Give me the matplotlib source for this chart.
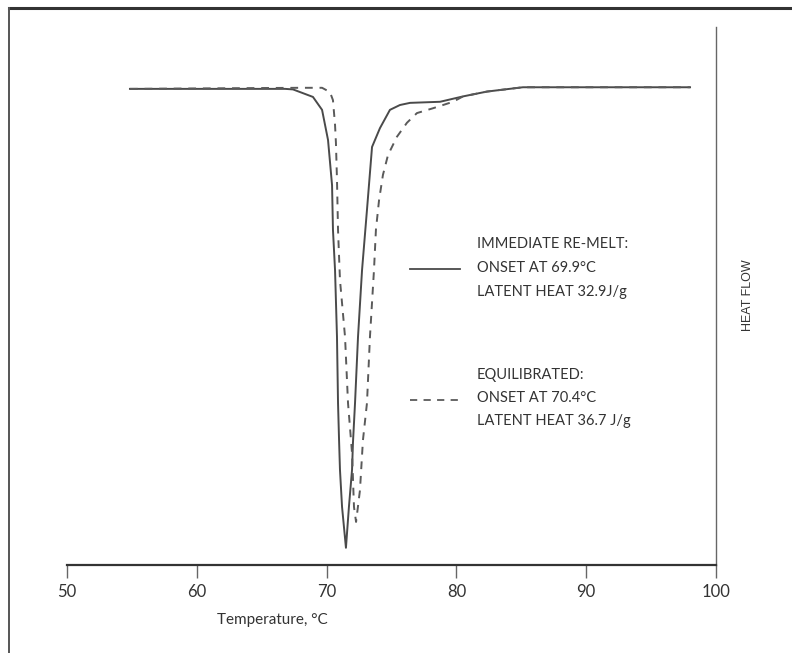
import numpy as np
import matplotlib.pyplot as plt
from matplotlib.lines import Line2D

plt.rcParams['font.family'] = ['Lato', 'DejaVu Sans']

# immediate re-melt (solid)
t_remelt = [54.85, 66.8, 67.41, 68.95, 69.65, 70.11, 70.42, 70.49, 70.65, 70.80,
            70.88, 70.96, 71.03, 71.19, 71.49, 71.72, 71.96, 72.03, 72.19, 72.42,
            72.73, 73.11, 73.50, 74.11, 74.88, 75.65, 76.43, 78.74, 80.51, 82.36,
            85.13, 98.0]
hf_remelt = [88.5, 88.5, 88.4, 87.0, 84.6, 79.0, 70.6, 62.3, 54.8, 42.4,
             30.1, 23.2, 17.7, 10.8, 3.2, 10.8, 17.7, 22.7, 30.1, 42.4,
             54.8, 66.0, 77.7, 81.2, 84.6, 85.5, 85.9, 86.1, 87.1, 88.0,
             88.8, 88.8]

# equilibrated (dashed)
t_equil = [54.85, 67.95, 69.65, 70.26, 70.49, 70.65, 70.72, 70.80, 70.88, 71.03,
           71.42, 71.65, 71.96, 72.11, 72.27, 72.57, 72.80, 73.11, 73.34, 73.65,
           73.80, 74.04, 74.34, 74.73, 75.42, 76.19, 76.96, 78.20, 79.74, 80.51,
           82.36, 85.13, 98.0]
hf_equil = [88.5, 88.7, 88.7, 87.9, 86.4, 81.8, 78.4, 71.6, 62.3, 53.0,
            42.4, 30.1, 20.8, 10.8, 8.0, 13.9, 23.2, 30.1, 42.4, 54.8,
            62.3, 67.8, 72.5, 76.2, 79.6, 82.2, 84.0, 84.9, 86.1, 87.1,
            88.0, 88.8, 88.8]

xticks = [50, 60, 70, 80, 90, 100]

remelt_text = ["IMMEDIATE RE-MELT:", "ONSET AT 69.9°C", "LATENT HEAT 32.9J/g"]
equil_text = ["EQUILIBRATED:", "ONSET AT 70.4°C", "LATENT HEAT 36.7 J/g"]

fig = plt.figure(figsize=(7.92, 6.53), dpi=100)
ax = fig.add_axes([67/792, 1-565/653, (716-67)/792, (565-27)/653])

lc = '#4a4a4a'
ax.plot(t_remelt, hf_remelt, color=lc, lw=1.4)
ax.plot(t_equil, hf_equil, color='#5a5a5a', lw=1.4, dashes=(4, 3.5))

ax.set_xlim(50, 100)
ax.set_ylim(0, 100)
ax.spines['left'].set_visible(False)
ax.spines['top'].set_visible(False)
ax.spines['bottom'].set_color('#333333')
ax.spines['bottom'].set_linewidth(1.6)
ax.spines['right'].set_color('#666666')
ax.spines['right'].set_linewidth(1.0)
ax.set_yticks([])
ax.set_xticks(xticks)
ax.tick_params(axis='x', direction='out', length=9, width=1, color='#666666',
               labelsize=12, labelcolor='#333333', pad=5)

fig.text(272/792, 1-620/653, "Temperature, °C",
         ha='center', va='center', fontsize=11, color='#333333')
fig.text(748/792, 1-295/653, "HEAT FLOW", rotation=90, ha='center', va='center',
         fontsize=9, color='#333333', family=['Liberation Sans', 'DejaVu Sans'])

# legend blocks
for i, s in enumerate(remelt_text):
    fig.text(477/792, 1-(244+24*i)/653, s, ha='left', va='center',
             fontsize=10.5, color='#333333')
for i, s in enumerate(equil_text):
    fig.text(477/792, 1-(375+23*i)/653, s, ha='left', va='center',
             fontsize=10.5, color='#333333')
fig.add_artist(Line2D([410/792, 460/792], [1-269/653, 1-269/653],
                      color=lc, lw=1.3))
fig.add_artist(Line2D([410/792, 458/792], [1-400/653, 1-400/653],
                      color='#5a5a5a', lw=1.3, dashes=(4, 3.5)))

# page frame
fig.add_artist(Line2D([9/792, 1], [1-8/653, 1-8/653], color='#333333', lw=2.2))
fig.add_artist(Line2D([9/792, 9/792], [0, 1-8/653], color='#555555', lw=1.4))

fig.savefig('out.png', dpi=100)
